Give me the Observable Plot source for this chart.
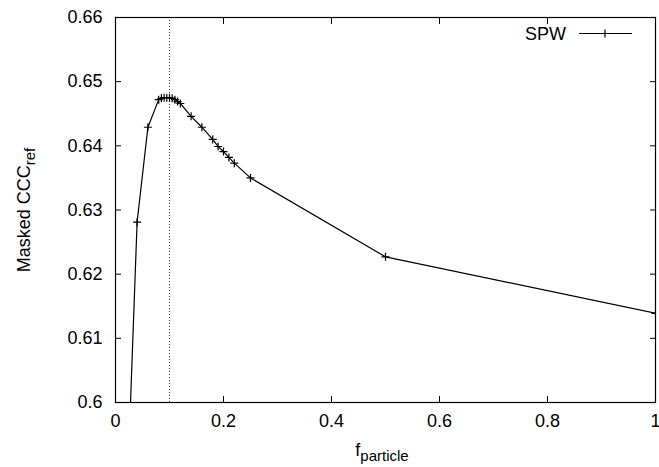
<!DOCTYPE html>
<html>
<head>
<meta charset="utf-8">
<script src="https://cdn.jsdelivr.net/npm/d3@7"></script>
<script src="https://cdn.jsdelivr.net/npm/@observablehq/plot@0.6"></script>
<style>
  html, body { margin: 0; padding: 0; background: #fff; }
  svg { display: block; }
</style>
</head>
<body>
<div id="chart"></div>
<script>
const fParticle = [0.02, 0.04, 0.06, 0.08, 0.085, 0.09, 0.095, 0.10, 0.105, 0.11, 0.115, 0.12, 0.14, 0.16, 0.18, 0.19, 0.20, 0.21, 0.22, 0.25, 0.50, 1.00];
const cccRef    = [0.582, 0.6281, 0.6429, 0.6472, 0.6474, 0.6475, 0.6475, 0.6475, 0.6474, 0.6472, 0.6469, 0.6466, 0.6446, 0.6429, 0.6410, 0.6399, 0.6391, 0.6382, 0.6373, 0.6350, 0.6227, 0.6139];
const xTicks = [0, 0.2, 0.4, 0.6, 0.8, 1];
const yTicks = [0.6, 0.61, 0.62, 0.63, 0.64, 0.65, 0.66];
const markerLine = [0.1];
const seriesName = "SPW";

const data = fParticle.map((f, i) => ({f, v: cccRef[i]}));
const fmt = d => String(+d.toFixed(2));
const thinPlus = {
  draw(ctx, size) {
    const r = Math.sqrt(size / Math.PI);
    ctx.moveTo(-r, 0); ctx.lineTo(r, 0);
    ctx.moveTo(0, -r); ctx.lineTo(0, r);
  }
};
const font = "Liberation Sans, Arial, Helvetica, sans-serif";

const plot = Plot.plot({
  width: 659,
  height: 467,
  marginLeft: 115,
  marginRight: 4,
  marginTop: 17,
  marginBottom: 65,
  style: {fontFamily: font, fontSize: "18px", color: "black", background: "white"},
  x: {domain: [0, 1]},
  y: {domain: [0.6, 0.66]},
  marks: [
    Plot.ruleX(markerLine, {stroke: "#444", strokeWidth: 1, strokeDasharray: "1,2"}),
    Plot.line(data, {x: "f", y: "v", stroke: "black", strokeWidth: 1.2, clip: true}),
    Plot.dot(data, {x: "f", y: "v", symbol: thinPlus, r: 4, stroke: "black", strokeWidth: 1.2, fill: "none", clip: true}),
    Plot.axisX(xTicks, {anchor: "bottom", tickSize: -6, tickPadding: 18, tickFormat: fmt, label: null, fontSize: 18}),
    Plot.axisX(xTicks, {anchor: "top", tickSize: -6, tickFormat: () => "", label: null}),
    Plot.axisY(yTicks, {anchor: "left", tickSize: -6, tickPadding: 19, tickFormat: fmt, label: null, fontSize: 18}),
    Plot.axisY(yTicks, {anchor: "right", tickSize: -6, tickFormat: () => "", label: null}),
    Plot.frame({stroke: "black", strokeWidth: 1.2})
  ]
});

const svg = d3.select(plot);

// x axis label with subscript
const xl = svg.append("text")
  .attr("x", 382).attr("y", 456)
  .attr("text-anchor", "middle")
  .attr("font-family", font).attr("font-size", 18).attr("fill", "black");
xl.append("tspan").text("f");
xl.append("tspan").attr("dy", 5).attr("font-size", 15).text("particle");

// y axis label with subscript
const yl = svg.append("text")
  .attr("transform", "translate(30,210) rotate(-90)")
  .attr("text-anchor", "middle")
  .attr("font-family", font).attr("font-size", 18).attr("fill", "black");
yl.append("tspan").text("Masked CCC");
yl.append("tspan").attr("dy", 5).attr("font-size", 15).text("ref");

// legend
const lg = svg.append("g");
lg.append("text").attr("x", 566).attr("y", 40)
  .attr("text-anchor", "end").attr("font-family", font).attr("font-size", 18)
  .attr("fill", "black").text(seriesName);
lg.append("line").attr("x1", 579).attr("x2", 632).attr("y1", 33.5).attr("y2", 33.5)
  .attr("stroke", "black").attr("stroke-width", 1.2);
lg.append("path").attr("d", "M601,33.5h8M605,29.5v8").attr("stroke", "black").attr("stroke-width", 1.2);

document.getElementById("chart").appendChild(plot);
</script>
</body>
</html>
